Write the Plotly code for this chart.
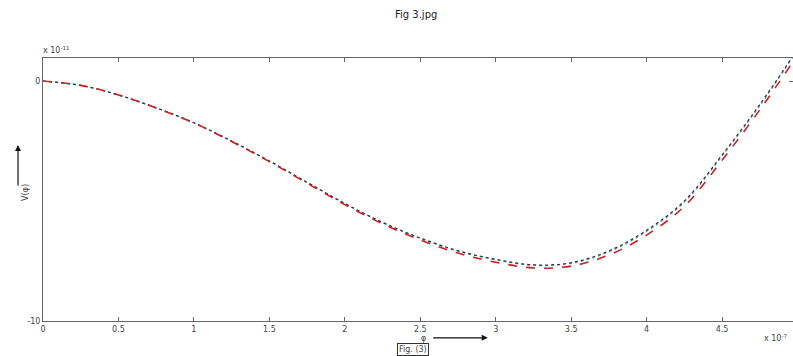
import plotly.graph_objects as go

phi = [0, 0.25, 0.5, 0.75, 1.0, 1.25, 1.5, 1.75, 2.0, 2.25, 2.5, 2.75, 3.0, 3.25, 3.5, 3.75, 4.0, 4.25, 4.5, 4.75, 4.97]
v_red = [0, -0.18, -0.58, -1.12, -1.75, -2.52, -3.36, -4.26, -5.15, -5.95, -6.62, -7.17, -7.55, -7.79, -7.71, -7.25, -6.42, -5.22, -3.3, -1.2, 0.8]
v_black = [0, -0.18, -0.58, -1.12, -1.74, -2.5, -3.33, -4.22, -5.1, -5.89, -6.54, -7.07, -7.43, -7.66, -7.57, -7.08, -6.22, -5.0, -3.08, -0.98, 1.05]
v_blue = [0, -0.18, -0.58, -1.12, -1.74, -2.51, -3.34, -4.23, -5.11, -5.9, -6.56, -7.09, -7.45, -7.68, -7.6, -7.12, -6.27, -5.05, -3.13, -1.03, 1.0]

fig = go.Figure()
fig.add_trace(go.Scatter(x=phi, y=v_blue, mode="lines", line=dict(color="#6fa8c8", width=1.3, dash="dot", shape="spline")))
fig.add_trace(go.Scatter(x=phi, y=v_black, mode="lines", line=dict(color="#333333", width=1.2, dash="dot", shape="spline")))
fig.add_trace(go.Scatter(x=phi, y=v_red, mode="lines", line=dict(color="#cc1f1f", width=1.6, dash="dash", shape="spline")))

axis_common = dict(showline=True, linecolor="#666666", linewidth=1, mirror="ticks", ticks="inside",
                   ticklen=4, tickcolor="#666666", showgrid=False, zeroline=False,
                   tickfont=dict(family="DejaVu Sans", size=8, color="#444444"))
fig.update_xaxes(range=[0, 4.97], tickvals=[0, 0.5, 1, 1.5, 2, 2.5, 3, 3.5, 4, 4.5],
                 ticktext=["0", "0.5", "1", "1.5", "2", "2.5", "3", "3.5", "4", "4.5"], **axis_common)
fig.update_yaxes(range=[-10, 0.96], tickvals=[0, -10], ticktext=["0", "-10"], **axis_common)

font_small = dict(family="DejaVu Sans", size=8, color="#444444")
ann = [
    dict(text="Fig 3.jpg", x=0.497, y=1.167, yanchor="middle", xref="paper", yref="paper", showarrow=False,
         font=dict(family="DejaVu Sans", size=10, color="#222222")),
    dict(text="x 10<sup>-11</sup>", x=-0.003, y=1.03, yanchor="middle", xref="paper", yref="paper", showarrow=False,
         xanchor="left", font=font_small),
    dict(text="x 10<sup>-7</sup>", x=0.958, y=-0.065, yanchor="middle", xref="paper", yref="paper", showarrow=False,
         xanchor="left", font=font_small),
    dict(text="V(φ)", x=-0.033, y=0.49, yanchor="middle", xref="paper", yref="paper", showarrow=False, textangle=-90,
         font=font_small),
    dict(text="", x=-0.0333, y=0.669, xref="paper", yref="paper", showarrow=True, ax=0, ay=42,
         arrowhead=2, arrowsize=1, arrowwidth=1.2, arrowcolor="#111111"),
    dict(text="φ", x=0.507, y=-0.068, yanchor="middle", xref="paper", yref="paper", showarrow=False, font=font_small),
    dict(text="", x=0.593, y=-0.064, xref="paper", yref="paper", showarrow=True, ax=-56, ay=0,
         arrowhead=2, arrowsize=1, arrowwidth=1.2, arrowcolor="#111111"),
    dict(text="Fig. (3)", x=0.493, y=-0.11, yanchor="middle", xref="paper", yref="paper", showarrow=False,
         bordercolor="#333333", borderwidth=1, borderpad=1, font=font_small),
]

fig.update_layout(width=793, height=356, margin=dict(l=43, r=0, t=58, b=35),
                  paper_bgcolor="white", plot_bgcolor="white", showlegend=False,
                  annotations=ann)
fig.write_html("out.html")
